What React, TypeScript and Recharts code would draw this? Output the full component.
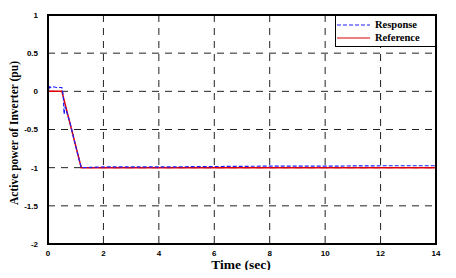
import { CartesianGrid, Line, LineChart, XAxis, YAxis } from "recharts";

const responseTime = [0, 0.02, 0.05, 0.1, 0.2, 0.3, 0.4, 0.5, 0.55, 0.58, 0.62, 0.7, 0.8, 0.9, 1.0, 1.1, 1.2, 2, 4, 6, 8, 10, 12, 14];
const responseValue = [0.2, 0.0, 0.06, 0.05, 0.06, 0.05, 0.05, 0.05, -0.05, -0.3, -0.2, -0.3, -0.42, -0.57, -0.72, -0.86, -1.0, -0.99, -0.99, -0.985, -0.98, -0.98, -0.975, -0.975];

const referenceTime = [0, 0.5, 1.2, 14];
const referenceValue = [0, 0, -1, -1];

const xTicks = [0, 2, 4, 6, 8, 10, 12, 14];
const yTicks = [-2, -1.5, -1, -0.5, 0, 0.5, 1];

const responseData = responseTime.map((t, i) => ({ t, v: responseValue[i] }));
const referenceData = referenceTime.map((t, i) => ({ t, v: referenceValue[i] }));

const tickStyle = { fontSize: 8, fill: "#000", fontFamily: "Liberation Sans, Arial", fontWeight: 700 };
const serif = "Liberation Serif, Times New Roman, serif";

// plot box: margins match the chart margins + axis sizes below
const plot = { left: 48, top: 15, right: 20, bottom: 34 };

function LegendBox() {
  return (
    <div
      style={{
        position: "absolute",
        left: 335,
        top: 15,
        border: "1px solid #000",
        background: "#fff",
        width: 101,
        height: 32,
        boxSizing: "border-box",
        fontFamily: serif,
        fontWeight: 700,
        fontSize: 10.5,
        lineHeight: "13px",
        padding: "2px 0 0 1px",
      }}
    >
      <div style={{ display: "flex", alignItems: "center" }}>
        <svg width={34} height={10}>
          <line x1={0} y1={5} x2={33} y2={5} stroke="#1f1fff" strokeWidth={1.2} strokeDasharray="4 2" />
        </svg>
        <span style={{ marginLeft: 4 }}>Response</span>
      </div>
      <div style={{ display: "flex", alignItems: "center" }}>
        <svg width={34} height={10}>
          <line x1={0} y1={5} x2={33} y2={5} stroke="#e00000" strokeWidth={1.2} />
        </svg>
        <span style={{ marginLeft: 4 }}>Reference</span>
      </div>
    </div>
  );
}

export default function App() {
  return (
    <div style={{ margin: -8, width: 456, height: 278, background: "#fff", position: "relative" }}>
      <LineChart width={456} height={278} margin={{ top: plot.top, right: plot.right, left: 0, bottom: 0 }}>
        <CartesianGrid stroke="#222" strokeDasharray="7 6" strokeWidth={1} />
        <XAxis
          type="number"
          dataKey="t"
          domain={[0, 14]}
          ticks={xTicks}
          allowDataOverflow
          height={plot.bottom}
          tick={tickStyle}
          tickLine={false}
          axisLine={{ stroke: "#000", strokeWidth: 2 }}
          tickMargin={0}
        />
        <YAxis
          type="number"
          domain={[-2, 1]}
          ticks={yTicks}
          width={plot.left}
          tick={tickStyle}
          tickLine={false}
          axisLine={{ stroke: "#000", strokeWidth: 2 }}
          tickMargin={4}
        />
        <Line
          data={referenceData}
          dataKey="v"
          stroke="#e00000"
          strokeWidth={1.5}
          dot={false}
          isAnimationActive={false}
        />
        <Line
          data={responseData}
          dataKey="v"
          stroke="#1f1fff"
          strokeWidth={1.2}
          strokeDasharray="4 2"
          dot={false}
          isAnimationActive={false}
        />
      </LineChart>
      <div
        style={{
          position: "absolute",
          left: plot.left - 1,
          top: plot.top - 1,
          right: plot.right - 1,
          bottom: plot.bottom - 1,
          border: "2px solid #000",
          pointerEvents: "none",
        }}
      />
      <LegendBox />
      <div
        style={{
          position: "absolute",
          left: 14,
          top: 133,
          transform: "translate(-50%, -50%) rotate(-90deg)",
          whiteSpace: "nowrap",
          lineHeight: "12px",
          fontFamily: serif,
          fontWeight: 700,
          fontSize: 11.5,
        }}
      >
        Active power of Inverter (pu)
      </div>
      <div
        style={{
          position: "absolute",
          left: 241,
          top: 265,
          transform: "translate(-50%, -50%)",
          whiteSpace: "nowrap",
          lineHeight: "12px",
          fontFamily: serif,
          fontWeight: 700,
          fontSize: 13.5,
        }}
      >
        Time (sec)
      </div>
    </div>
  );
}
